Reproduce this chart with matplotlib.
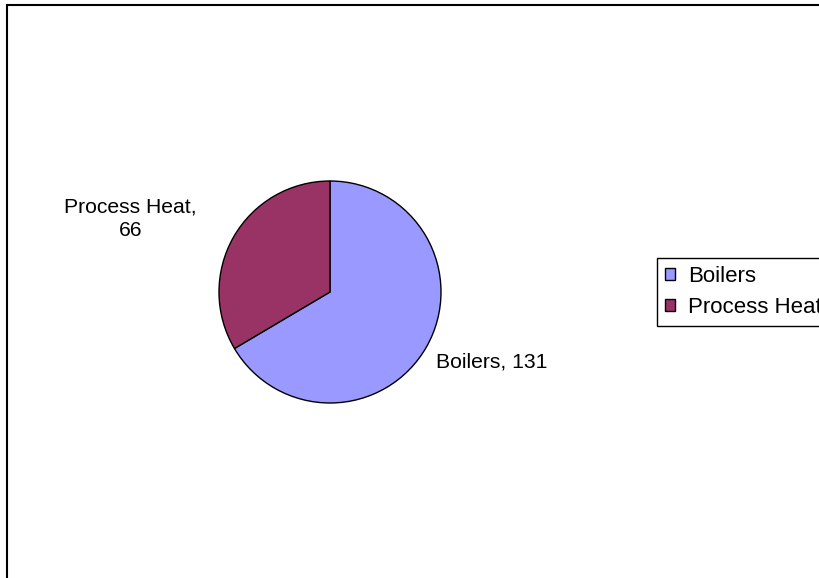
import matplotlib.pyplot as plt
from matplotlib.patches import Rectangle
import numpy as np

plt.rcParams['font.family'] = ['Liberation Sans', 'DejaVu Sans']

categories = ["Boilers", "Process Heat"]
values = [131, 66]
colors = ["#9999FF", "#993366"]

W, H = 819, 578
fig = plt.figure(figsize=(W / 100, H / 100), dpi=100)

# chart area border (runs off the right and bottom edges)
fig.add_artist(Rectangle((7 / W, -0.1), 2, 1 - 5 / H + 0.1, transform=fig.transFigure,
                         fill=False, edgecolor="black", linewidth=1.5))

cx, cy, r = 330, 292, 111
ax = fig.add_axes([(cx - r) / W, (H - cy - r) / H, 2 * r / W, 2 * r / H])
wedges, _ = ax.pie(values, colors=colors, startangle=90, counterclock=False,
                   wedgeprops=dict(edgecolor="black", linewidth=1))
ax.set_xlim(-1, 1)
ax.set_ylim(-1, 1)
ax.set_aspect("equal")
ax.axis("off")

# data labels, placed outside each slice (offsets in radius units)
label_pos = [(0.955, -0.63, "left"), (-1.80, 0.66, "center")]
label_text = [f"{categories[0]}, {values[0]}", f"{categories[1]},\n{values[1]}"]
for (x, y, ha), txt in zip(label_pos, label_text):
    ax.text(x, y, txt, ha=ha, va="center", fontsize=15.2,
            linespacing=1.25, clip_on=False)

leg = fig.legend(wedges, categories, loc="upper left",
                 bbox_to_anchor=(657 / W, 1 - 258 / H), fontsize=16,
                 handlelength=0.45, handleheight=0.45, handletextpad=0.6,
                 borderpad=0.35, labelspacing=0.45, borderaxespad=0,
                 fancybox=False, edgecolor="black", framealpha=1)
leg.get_frame().set_linewidth(1)

fig.savefig("out.png", dpi=100)
